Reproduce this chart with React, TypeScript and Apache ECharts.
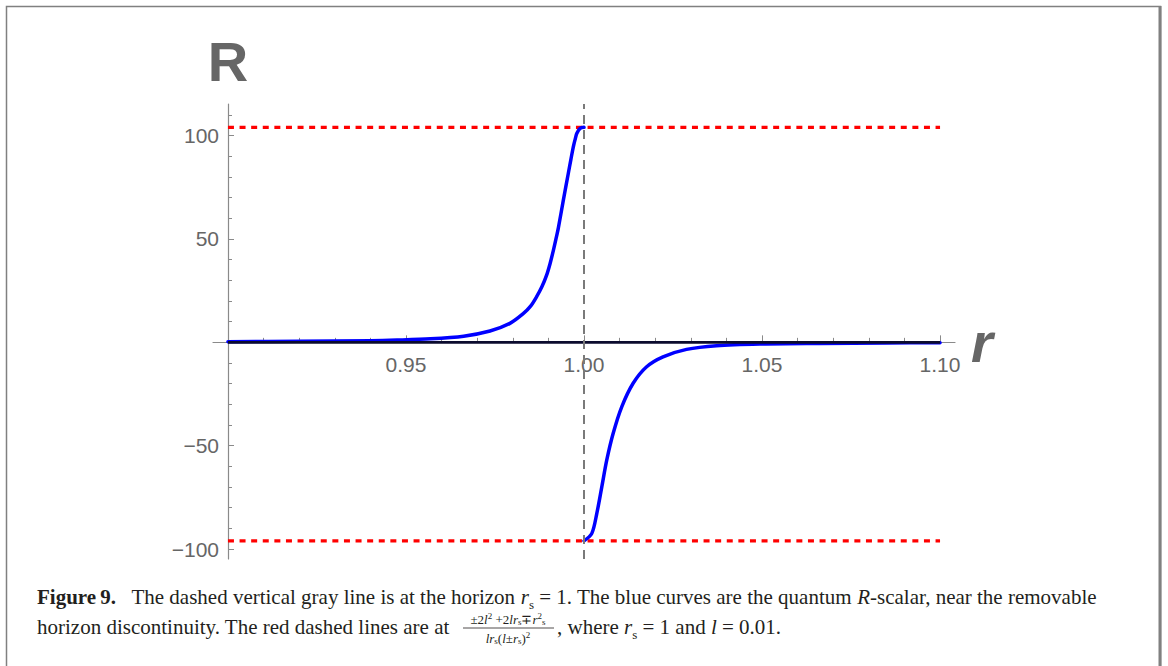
import React, { useEffect, useRef } from "react";
import * as echarts from "echarts";

// ---- axis extents (data units) ----
const X_MIN = 0.8958;
const X_MAX = 1.1042;
const Y_MIN = -104.8;
const Y_MAX = 115.3;

// ---- ticks ----
const xMajorTicks = [0.95, 1.0, 1.05, 1.1];
const xMinorTicks = [0.91, 0.92, 0.93, 0.94, 0.95, 0.96, 0.97, 0.98, 0.99, 1.0, 1.01, 1.02, 1.03, 1.04, 1.05, 1.06, 1.07, 1.08, 1.09, 1.1];
const yMajorTicks = [-100, -50, 50, 100];
const yMinorTicks = [-100, -90, -80, -70, -60, -50, -40, -30, -20, -10, 10, 20, 30, 40, 50, 60, 70, 80, 90, 100, 110];

// ---- data ----
const rStart = 0.9;
const rEnd = 1.1;
const horizonR = 1.0;
const redUpper = 104.0;
const redLower = -96.0;

const leftBranchR = [0.9, 0.92, 0.94, 0.9475, 0.9569, 0.9662, 0.9736, 0.9792, 0.983, 0.985, 0.9867, 0.9882, 0.9895, 0.9905, 0.9914, 0.9921, 0.9928, 0.9942, 0.9956, 0.9963, 0.997, 0.9976, 0.998, 0.9989, 1.0];
const leftBranchValue = [0.3, 0.5, 0.8, 1.1, 1.7, 3.0, 5.5, 9.2, 14.0, 17.5, 22.1, 27.0, 32.5, 38.3, 44.5, 49.8, 55.4, 68.8, 81.8, 88.3, 94.6, 98.8, 101.1, 103.5, 104.0];

const rightBranchR = [1.0, 1.0022, 1.0036, 1.005, 1.0064, 1.0082, 1.0106, 1.0138, 1.0176, 1.0222, 1.0288, 1.0372, 1.0494, 1.0662, 1.085, 1.1];
const rightBranchValue = [-96.0, -92.4, -82.7, -69.9, -56.9, -44.0, -31.2, -19.8, -11.8, -7.0, -3.4, -1.6, -0.8, -0.5, -0.3, -0.2];

const zip = (xs: number[], ys: number[]) => xs.map((x, i) => [x, ys[i]]);

const SERIF = "'Liberation Serif', 'Times New Roman', serif";
const SANS = "'Liberation Sans', Arial, sans-serif";
const INK = "#231f20";
const AXIS = "#8a8a8a";
const LABEL = "#666666";

// plot-area geometry
const GRID_LEFT = 213;
const GRID_RIGHT = 213;
const GRID_TOP = 104;
const GRID_BOTTOM = 107;
const PLOT_H = 666 - GRID_TOP - GRID_BOTTOM;
const ZERO_FROM_BOTTOM = 666 - (GRID_TOP + (Y_MAX / (Y_MAX - Y_MIN)) * PLOT_H);

function captionRich(size: number) {
  const small = Math.round(size * 0.62);
  return {
    n: { fontSize: size, fontFamily: SERIF, fill: INK, lineHeight: 28 },
    b: { fontSize: size, fontFamily: SERIF, fill: INK, fontWeight: "bold", lineHeight: 28 },
    i: { fontSize: size, fontFamily: SERIF, fill: INK, fontStyle: "italic", lineHeight: 28 },
    sub: { fontSize: small, fontFamily: SERIF, fill: INK, lineHeight: 20, verticalAlign: "bottom" },
  };
}

function fracRich() {
  return {
    s: { fontSize: 13, fontFamily: SERIF, fill: INK, lineHeight: 15 },
    si: { fontSize: 13, fontFamily: SERIF, fill: INK, fontStyle: "italic", lineHeight: 15 },
    sup: { fontSize: 9, fontFamily: SERIF, fill: INK, lineHeight: 9, verticalAlign: "top" },
    sub: { fontSize: 9, fontFamily: SERIF, fill: INK, lineHeight: 10, verticalAlign: "bottom" },
  };
}

export default function App() {
  const ref = useRef<HTMLDivElement>(null);

  useEffect(() => {
    if (!ref.current) return;
    const chart = echarts.init(ref.current, null, { renderer: "svg" });
    const cap = 21;

    const option: any = {
      animation: false,
      backgroundColor: "#ffffff",
      grid: [
        { left: GRID_LEFT, right: GRID_RIGHT, top: GRID_TOP, bottom: GRID_BOTTOM },
        { left: GRID_LEFT, right: GRID_RIGHT, top: GRID_TOP, bottom: ZERO_FROM_BOTTOM },
      ],
      xAxis: [
        {
          gridIndex: 0,
          type: "value",
          min: X_MIN,
          max: X_MAX,
          show: false,
        },
        {
          gridIndex: 1,
          type: "value",
          min: X_MIN,
          max: X_MAX,
          position: "bottom",
          name: "r",
          nameLocation: "end",
          nameGap: 16,
          nameTextStyle: { fontSize: 56, fontWeight: "bold", fontStyle: "italic", color: LABEL, fontFamily: SANS },
          axisLine: { show: true, onZero: false, lineStyle: { color: AXIS, width: 1.2 } },
          axisTick: { show: true, inside: true, length: 7, customValues: xMajorTicks, lineStyle: { color: AXIS, width: 1 } },
          axisLabel: {
            show: true,
            customValues: xMajorTicks,
            formatter: (v: number) => v.toFixed(2),
            color: LABEL,
            fontSize: 21,
            fontFamily: SANS,
            margin: 12,
          },
          splitLine: { show: false },
        },
        {
          gridIndex: 1,
          type: "value",
          min: X_MIN,
          max: X_MAX,
          position: "bottom",
          axisLine: { show: false, onZero: false },
          axisTick: { show: true, inside: true, length: 4.5, customValues: xMinorTicks, lineStyle: { color: AXIS, width: 1 } },
          axisLabel: { show: false },
          splitLine: { show: false },
        },
      ],
      yAxis: [
        {
          gridIndex: 0,
          type: "value",
          min: Y_MIN,
          max: Y_MAX,
          position: "left",
          offset: -15,
          name: "R",
          nameLocation: "end",
          nameGap: 15,
          nameTextStyle: { fontSize: 56, fontWeight: "bold", color: LABEL, fontFamily: SANS },
          axisLine: { show: true, onZero: false, lineStyle: { color: AXIS, width: 1.2 } },
          axisTick: { show: true, inside: true, length: 6, customValues: yMajorTicks, lineStyle: { color: AXIS, width: 1 } },
          axisLabel: {
            show: true,
            customValues: yMajorTicks,
            formatter: (v: number) => (v < 0 ? "\u2212" + Math.abs(v) : String(v)),
            color: LABEL,
            fontSize: 21,
            fontFamily: SANS,
            margin: 9,
          },
          splitLine: { show: false },
        },
        {
          gridIndex: 0,
          type: "value",
          min: Y_MIN,
          max: Y_MAX,
          position: "left",
          offset: -15,
          axisLine: { show: false, onZero: false },
          axisTick: { show: true, inside: true, length: 4, customValues: yMinorTicks, lineStyle: { color: AXIS, width: 1 } },
          axisLabel: { show: false },
          splitLine: { show: false },
        },
        {
          gridIndex: 1,
          type: "value",
          min: 0,
          max: 1,
          show: false,
        },
      ],
      series: [
        {
          type: "line",
          xAxisIndex: 0,
          yAxisIndex: 0,
          data: [[rStart, redUpper], [rEnd, redUpper]],
          symbol: "none",
          silent: true,
          lineStyle: { color: "#ff0000", width: 3.2, type: [6, 5.6] },
          z: 2,
        },
        {
          type: "line",
          xAxisIndex: 0,
          yAxisIndex: 0,
          data: [[rStart, redLower], [rEnd, redLower]],
          symbol: "none",
          silent: true,
          lineStyle: { color: "#ff0000", width: 3.2, type: [6, 5.6] },
          z: 2,
        },
        {
          type: "line",
          xAxisIndex: 0,
          yAxisIndex: 0,
          data: zip(leftBranchR, leftBranchValue),
          symbol: "none",
          smooth: 0.3,
          silent: true,
          lineStyle: { color: "#0000ff", width: 3.5, join: "round", cap: "round" },
          z: 3,
        },
        {
          type: "line",
          xAxisIndex: 0,
          yAxisIndex: 0,
          data: zip(rightBranchR, rightBranchValue),
          symbol: "none",
          smooth: 0.3,
          silent: true,
          lineStyle: { color: "#0000ff", width: 3.5, join: "round", cap: "round" },
          z: 3,
        },
        {
          type: "line",
          xAxisIndex: 0,
          yAxisIndex: 0,
          data: [[rStart, 0], [rEnd, 0]],
          symbol: "none",
          silent: true,
          lineStyle: { color: "#0b0b2e", width: 2.6 },
          z: 4,
          markLine: {
            silent: true,
            symbol: "none",
            label: { show: false },
            lineStyle: { color: "#7a7a7a", width: 2, type: [9, 6] },
            data: [{ xAxis: horizonR }],
          },
        },
      ],
      graphic: [
        {
          type: "rect",
          shape: { x: 6.5, y: 6.5, width: 1154, height: 720 },
          style: { fill: "none", stroke: "#808080", lineWidth: 1.5 },
          silent: true,
        },
        {
          type: "line",
          shape: { x1: 1160, y1: 6, x2: 1160, y2: 666 },
          style: { stroke: "#808080", lineWidth: 3 },
          silent: true,
        },
        {
          type: "text",
          x: 37,
          y: 597,
          style: {
            text:
              "{b|Figure\u20099.}{n|   The dashed vertical gray line is at the horizon }{i|r}{sub|s}{n| = 1. The blue curves are the quantum }{i|R}{n|-scalar, near the removable}",
            rich: captionRich(cap),
            verticalAlign: "middle",
            align: "left",
            fill: INK,
          },
          silent: true,
        },
        {
          type: "text",
          x: 37,
          y: 627,
          style: {
            text: "{n|horizon discontinuity. The red dashed lines are at}",
            rich: captionRich(cap),
            verticalAlign: "middle",
            align: "left",
            fill: INK,
          },
          silent: true,
        },
        {
          type: "text",
          x: 508,
          y: 619,
          style: {
            text: "{s|\u00b12}{si|l}{sup|2}{s| +2}{si|lr}{sub|s}{s|\u2213}{si|r}{sup|2}{sub|s}",
            rich: fracRich(),
            verticalAlign: "middle",
            align: "center",
            fill: INK,
          },
          silent: true,
        },
        {
          type: "line",
          shape: { x1: 463, y1: 628, x2: 554, y2: 628 },
          style: { stroke: INK, lineWidth: 0.8 },
          silent: true,
        },
        {
          type: "text",
          x: 508,
          y: 638,
          style: {
            text: "{si|lr}{sub|s}{s|(}{si|l}{s|\u00b1}{si|r}{sub|s}{s|)}{sup|2}",
            rich: fracRich(),
            verticalAlign: "middle",
            align: "center",
            fill: INK,
          },
          silent: true,
        },
        {
          type: "text",
          x: 557,
          y: 627,
          style: {
            text: "{n|, where }{i|r}{sub|s}{n| = 1 and }{i|l}{n| = 0.01.}",
            rich: captionRich(cap),
            verticalAlign: "middle",
            align: "left",
            fill: INK,
          },
          silent: true,
        },
      ],
    };

    chart.setOption(option);
    return () => chart.dispose();
  }, []);

  return (
    <div
      ref={ref}
      style={{ position: "fixed", left: 0, top: 0, width: 1168, height: 666, background: "#fff" }}
    />
  );
}
